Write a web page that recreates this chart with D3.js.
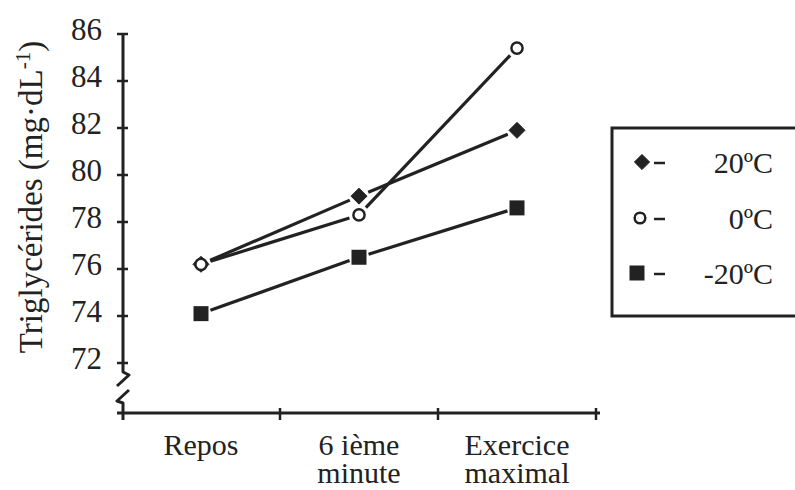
<!DOCTYPE html>
<html>
<head>
<meta charset="utf-8">
<script src="https://cdn.jsdelivr.net/npm/d3@7"></script>
<style>
  html, body { margin: 0; padding: 0; background: #fff; }
  svg { display: block; }
</style>
</head>
<body>
<svg id="chart" width="795" height="490"></svg>
<script>
// Categories (two-line labels) and series values, in mg/dL
const categories = ["Repos", "6 ième minute", "Exercice maximal"];
const categoryLines = [["Repos"], ["6 ième", "minute"], ["Exercice", "maximal"]];
const seriesNames = ["20ºC", "0ºC", "-20ºC"];
const values20 = [76.2, 79.1, 81.9];
const values0 = [76.2, 78.3, 85.4];
const valuesMinus20 = [74.1, 76.5, 78.6];
const yTicks = [72, 74, 76, 78, 80, 82, 84, 86];

const ink = "#222";
const serif = "Liberation Serif";
const svg = d3.select("#chart");

const x = d3.scaleBand().domain(categories).range([122, 596]).padding(0);
const y = d3.scaleLinear().domain([72, 86]).range([363, 34]);
const axisX = 123, axisY = 413;

const series = [
  { name: seriesNames[0], values: values20, shape: "diamond" },
  { name: seriesNames[1], values: values0, shape: "circle" },
  { name: seriesNames[2], values: valuesMinus20, shape: "square" }
];

function label(g) {
  return g.append("text").attr("font-family", serif).attr("fill", ink);
}

// Y axis with break mark near the origin
svg.append("path")
  .attr("d", `M${axisX},${y(86)} V372 L129,375 L117,386 M129,390 L117,401 L${axisX},403 V420`)
  .attr("fill", "none").attr("stroke", ink).attr("stroke-width", 3)
  .attr("stroke-linejoin", "round");

// Y ticks (crossing the axis) and labels
const yg = svg.append("g");
yTicks.forEach(t => {
  yg.append("line")
    .attr("x1", axisX - 6).attr("x2", axisX + 5)
    .attr("y1", y(t)).attr("y2", y(t))
    .attr("stroke", ink).attr("stroke-width", 2.5);
  label(yg)
    .attr("x", 102).attr("y", y(t) + 6)
    .attr("text-anchor", "end")
    .attr("font-size", 31)
    .text(t);
});

// X axis line and ticks at category boundaries
svg.append("line")
  .attr("x1", axisX - 6).attr("x2", x.range()[1] + 4)
  .attr("y1", axisY).attr("y2", axisY)
  .attr("stroke", ink).attr("stroke-width", 3);
categories.forEach(c => {
  const bx = x(c) + x.bandwidth();
  svg.append("line")
    .attr("x1", bx).attr("x2", bx)
    .attr("y1", axisY - 5).attr("y2", axisY + 7)
    .attr("stroke", ink).attr("stroke-width", 2.5);
});

// X category labels
categories.forEach((c, i) => {
  const t = label(svg)
    .attr("x", x(c) + x.bandwidth() / 2)
    .attr("y", 455)
    .attr("text-anchor", "middle")
    .attr("font-size", 30);
  categoryLines[i].forEach((line, k) => {
    t.append("tspan")
      .attr("x", x(c) + x.bandwidth() / 2)
      .attr("dy", k === 0 ? 0 : 28)
      .text(line);
  });
});

// Y axis title
const yt = label(svg)
  .attr("transform", "translate(42,197) rotate(-90)")
  .attr("text-anchor", "middle")
  .attr("font-size", 33);
yt.append("tspan").text("Triglycérides (mg·dL");
yt.append("tspan").attr("baseline-shift", "super").attr("font-size", 21).text("-1");
yt.append("tspan").text(")");

// Data lines, trimmed so they stop short of the markers
const trim = 10;
const lineG = svg.append("g");
series.forEach(s => {
  for (let i = 0; i < s.values.length - 1; i++) {
    const x1 = x(categories[i]) + x.bandwidth() / 2, y1 = y(s.values[i]);
    const x2 = x(categories[i + 1]) + x.bandwidth() / 2, y2 = y(s.values[i + 1]);
    const len = Math.hypot(x2 - x1, y2 - y1);
    const ux = (x2 - x1) / len, uy = (y2 - y1) / len;
    lineG.append("line")
      .attr("x1", x1 + ux * trim).attr("y1", y1 + uy * trim)
      .attr("x2", x2 - ux * trim).attr("y2", y2 - uy * trim)
      .attr("stroke", ink).attr("stroke-width", 3.2);
  }
});

function drawMarker(g, shape, cx, cy, scale) {
  const k = scale || 1;
  if (shape === "square") {
    const h = 7.5 * k;
    g.append("rect").attr("x", cx - h).attr("y", cy - h)
      .attr("width", 2 * h).attr("height", 2 * h).attr("fill", ink);
  } else if (shape === "diamond") {
    const h = 8 * k;
    g.append("path")
      .attr("d", `M${cx},${cy - h} L${cx + h},${cy} L${cx},${cy + h} L${cx - h},${cy} Z`)
      .attr("fill", ink).attr("stroke", ink).attr("stroke-width", 1).attr("stroke-linejoin", "round");
  } else {
    g.append("circle").attr("cx", cx).attr("cy", cy).attr("r", 5.6 * k)
      .attr("fill", "#fff").attr("stroke", ink).attr("stroke-width", 2.5);
  }
}

// Markers: squares, then diamonds, with open circles drawn on top
const markG = svg.append("g");
["square", "diamond", "circle"].forEach(shape => {
  series.filter(s => s.shape === shape).forEach(s => {
    s.values.forEach((v, i) => {
      drawMarker(markG, shape, x(categories[i]) + x.bandwidth() / 2, y(v));
    });
  });
});

// Legend box (runs off the right edge)
svg.append("rect")
  .attr("x", 612).attr("y", 128).attr("width", 200).attr("height", 188)
  .attr("fill", "none").attr("stroke", ink).attr("stroke-width", 3);
const legendRows = [162, 218, 273];
series.forEach((s, i) => {
  const cy = legendRows[i];
  const mx = s.shape === "square" ? 637 : (s.shape === "circle" ? 640 : 642);
  drawMarker(svg, s.shape, mx, cy, s.shape === "square" ? 1 : 0.95);
  svg.append("line")
    .attr("x1", 654).attr("x2", 665).attr("y1", cy + 1).attr("y2", cy + 1)
    .attr("stroke", ink).attr("stroke-width", 2.5);
  label(svg)
    .attr("x", 773).attr("y", cy + 11)
    .attr("text-anchor", "end")
    .attr("font-size", 30)
    .text(s.name);
});
</script>
</body>
</html>
